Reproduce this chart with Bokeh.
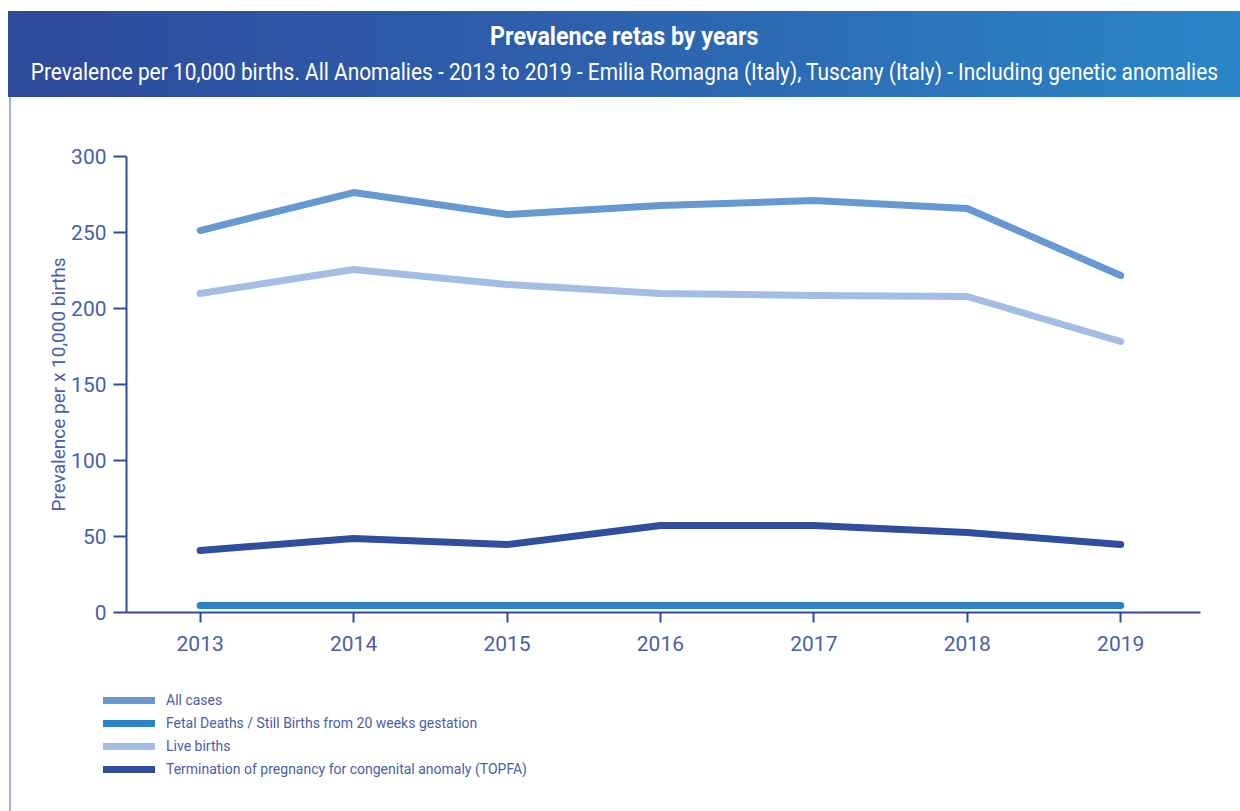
from bokeh.plotting import figure
from bokeh.models import Div, FixedTicker, Legend, LegendItem, Range1d
from bokeh.layouts import column, row
from bokeh.embed import file_html
from bokeh.resources import INLINE

years = [2013, 2014, 2015, 2016, 2017, 2018, 2019]
all_cases = [251.3, 276.3, 261.8, 267.8, 271.0, 265.8, 221.7]
fetal_deaths = [4.6, 4.6, 4.6, 4.6, 4.6, 4.6, 4.6]
live_births = [209.9, 225.7, 215.8, 209.9, 208.6, 207.9, 178.3]
topfa = [40.8, 48.7, 44.7, 57.2, 57.2, 52.6, 44.7]
y_ticks = [0, 50, 100, 150, 200, 250, 300]

series_names = ["All cases", "Fetal Deaths / Still Births from 20 weeks gestation",
                "Live births", "Termination of pregnancy for congenital anomaly (TOPFA)"]
series_values = [all_cases, fetal_deaths, live_births, topfa]
series_colors = ["#6699D1", "#2B82C5", "#A3BDE4", "#2F4E9E"]

FONT = "Roboto"
AXIS = "#2F4B9F"
TXT = "#4A5EAC"

header = Div(
    text=("<div style='width:1232px;color:white;font-family:Roboto;white-space:nowrap;'>"
          "<div style='display:flex;justify-content:center;font-weight:bold;font-size:25px;line-height:26px;padding-top:13px;'>"
          "<span style='display:inline-block;transform:scaleX(0.93);'>Prevalence retas by years</span></div>"
          "<div style='display:flex;justify-content:center;font-size:24px;line-height:28px;padding-top:8px;'>"
          "<span style='display:inline-block;flex-shrink:0;transform:scaleX(0.87);'>Prevalence per 10,000 births. All Anomalies - 2013 to 2019 - "
          "Emilia Romagna (Italy), Tuscany (Italy) - Including genetic anomalies</span></div></div>"),
    width=1232, height=86, margin=(11, 0, 0, 8),
    styles={"background": "linear-gradient(90deg, #2F4A9B 0%, #2D62AE 50%, #2A86C8 100%)", "overflow": "hidden"},
)

# main chart
p = figure(width=1229, height=580, output_backend="svg", toolbar_location=None,
           x_range=Range1d(2012.52, 2019.52), y_range=Range1d(0, 300),
           min_border_left=115, min_border_right=40, min_border_top=59, min_border_bottom=65)
p.outline_line_color = None
p.grid.grid_line_color = None
p.background_fill_color = "white"
p.border_fill_color = "white"

for vals, col in zip(series_values, series_colors):
    p.line(years, vals, line_width=7, line_color=col, line_cap="round", line_join="round")

for ax in (p.xaxis[0], p.yaxis[0]):
    ax.axis_line_color = AXIS
    ax.axis_line_width = 2
    ax.major_tick_line_color = AXIS
    ax.major_tick_line_width = 2
    ax.major_tick_in = 0
    ax.minor_tick_line_color = None
    ax.major_label_text_color = TXT
    ax.major_label_text_font = FONT
    ax.major_label_text_font_size = "21px"

p.xaxis[0].ticker = FixedTicker(ticks=years)
p.xaxis[0].major_tick_out = 10
p.xaxis[0].major_label_standoff = 13
p.yaxis[0].ticker = FixedTicker(ticks=y_ticks)
p.yaxis[0].major_tick_out = 13
p.yaxis[0].major_label_standoff = 7
p.yaxis[0].axis_label = "Prevalence per x 10,000 births"
p.yaxis[0].axis_label_text_font = FONT
p.yaxis[0].axis_label_text_font_style = "normal"
p.yaxis[0].axis_label_text_font_size = "19px"
p.yaxis[0].axis_label_text_color = TXT
p.yaxis[0].axis_label_standoff = -2

# legend panel: the series are plotted far outside its visible range, only the legend shows
pl = figure(width=1252, height=134, output_backend="svg", toolbar_location=None,
            x_axis_location=None, y_axis_location=None, min_border=0,
            x_range=Range1d(0, 1), y_range=Range1d(-2, -1), margin=(0, 0, 0, -23))
pl.outline_line_color = None
pl.grid.grid_line_color = None
pl.background_fill_alpha = 0
pl.border_fill_alpha = 0
swatches = []
for name, vals, col in zip(series_names, series_values, series_colors):
    r = pl.line(years, vals, line_width=7, line_color=col, line_cap="round")
    swatches.append(LegendItem(label=name, renderers=[r]))

legend = Legend(items=swatches, location=(0, 34), orientation="vertical",
                background_fill_alpha=0, border_line_alpha=0,
                label_text_font=FONT, label_text_font_size="14px", label_text_color=TXT,
                glyph_width=52, glyph_height=16, spacing=7, label_standoff=11,
                padding=0, margin=0, label_height=16)
pl.add_layout(legend, "center")

border = Div(text="", width=2, height=714, margin=(0, 0, 0, 9), styles={"background": "#A3B2DD"})
layout = column(header, row(border, column(p, pl, spacing=0), spacing=0), spacing=0)

open("out.html", "w").write(file_html(layout, INLINE))
